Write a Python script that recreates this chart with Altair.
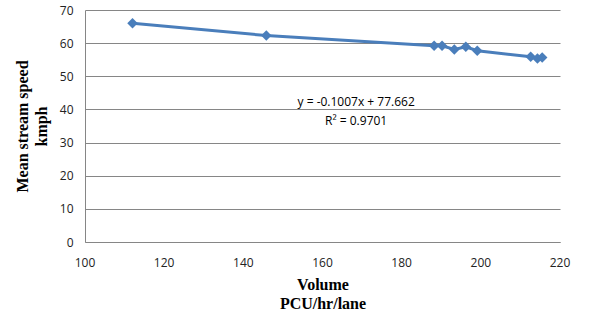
import altair as alt
import pandas as pd

volume = [112.0, 145.8, 188.2, 190.2, 193.3, 196.2, 199.1, 212.6, 214.3, 215.5]
speed = [66.0, 62.3, 59.2, 59.2, 58.1, 58.9, 57.7, 55.9, 55.4, 55.7]

x_ticks = [100, 120, 140, 160, 180, 200, 220]
y_ticks = [0, 10, 20, 30, 40, 50, 60, 70]

eq_text = ["y = -0.1007x + 77.662", "R² = 0.9701"]
eq_x = [168.5, 168.5]
eq_y = [42.3, 36.6]

df = pd.DataFrame({"volume": volume, "speed": speed, "t": [""] * len(volume), "kind": ["d"] * len(volume)})
ann = pd.DataFrame({"volume": eq_x, "speed": eq_y, "t": eq_text, "kind": ["a"] * len(eq_text)})
ticks = pd.DataFrame({"volume": x_ticks, "speed": [y_ticks[0]] * len(x_ticks),
                      "t": [str(v) for v in x_ticks], "kind": ["x"] * len(x_ticks)})
data = pd.concat([df, ann, ticks], ignore_index=True)

xs = alt.Scale(domain=[x_ticks[0], x_ticks[-1]], nice=False, zero=False)
ys = alt.Scale(domain=[y_ticks[0], y_ticks[-1]], nice=False)

x_axis = alt.Axis(values=x_ticks, grid=False, labels=False, title=["Volume", "PCU/hr/lane"],
                  titlePadding=34)
y_axis = alt.Axis(values=y_ticks, grid=True, title=["Mean stream speed", "kmph"],
                  labelPadding=12, titlePadding=10)

line = alt.Chart().mark_line(
    color="#4A7EBB", strokeWidth=3,
    point=alt.OverlayMarkDef(shape="diamond", size=110, color="#4A7EBB", filled=True, opacity=1)
).transform_filter(alt.datum.kind == "d")

text = alt.Chart().mark_text(font="Open Sans", fontSize=12, color="#000000").encode(
    text="t:N"
).transform_filter(alt.datum.kind == "a")

xlabels = alt.Chart().mark_text(
    font="Open Sans", fontSize=12, color="#222222", baseline="middle", dy=21
).encode(text="t:N").transform_filter(alt.datum.kind == "x")

chart = alt.layer(line, text, xlabels, data=data).encode(
    x=alt.X("volume:Q", scale=xs, axis=x_axis),
    y=alt.Y("speed:Q", scale=ys, axis=y_axis),
).properties(
    width=475, height=232,
    autosize=alt.AutoSizeParams(type="none"),
    padding={"left": 85, "top": 10, "right": 30, "bottom": 78},
).configure_view(stroke=None).configure_axis(
    ticks=False, labelFlush=False,
    domainColor="#868686", gridColor="#868686",
    labelFont="Open Sans", labelFontSize=12, labelColor="#222222",
    titleFont="Liberation Serif", titleFontSize=16, titleFontWeight="bold",
    titleColor="#000000", titleLineHeight=19,
)

chart.save("out.html", embed_options={"renderer": "svg", "actions": False})
